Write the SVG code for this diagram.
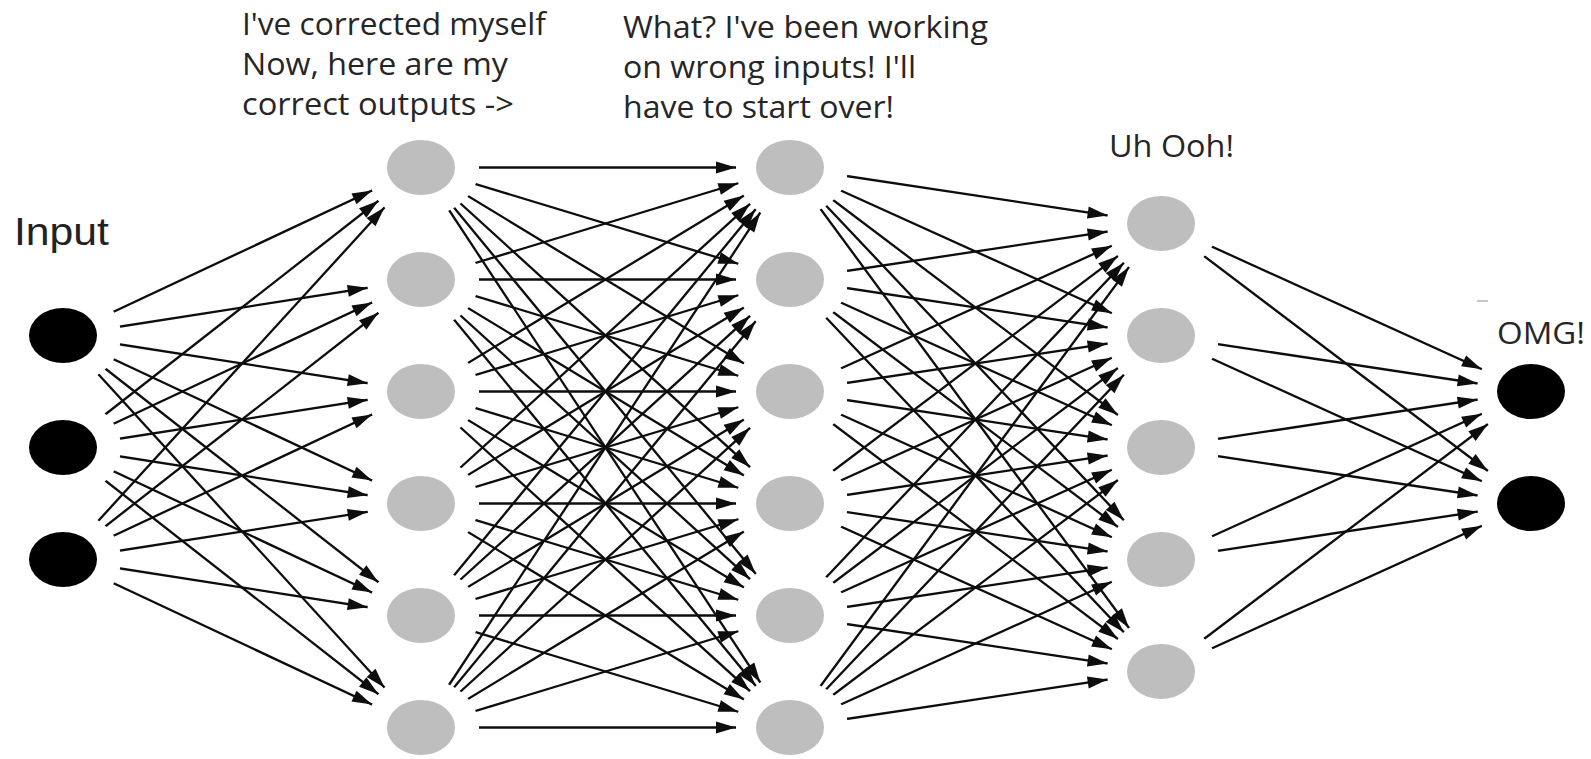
<svg xmlns="http://www.w3.org/2000/svg" xmlns:xlink="http://www.w3.org/1999/xlink" width="1591" height="759" viewBox="0 0 1591 759">
<style>
.conn line{stroke:#0d0d0d;stroke-width:2.3;fill:none;marker-end:url(#ah)}
.hid{fill:#bebebe}
.io{fill:#000}
.note{font-family:"Open Sans","Noto Sans",sans-serif;font-size:31px;fill:#262626}
.lbl{font-family:"Liberation Sans",Arial,sans-serif;font-size:39px;fill:#222}
</style>
<defs>
<marker id="ah" markerUnits="userSpaceOnUse" orient="auto" overflow="visible" markerWidth="1" markerHeight="1" refX="0" refY="0">
<path d="M-54,0 L-74,-6 L-74,6 Z" fill="#0d0d0d"/>
</marker>
<path id="hole" d="M0,-54 A54,54 0 0 0 0,54 L0,49 A58,49 0 0 0 0,-49 Z" fill="#000"/>
<mask id="trim" maskUnits="userSpaceOnUse" x="0" y="0" width="1591" height="759">
<rect width="1591" height="759" fill="#fff"/>
<use xlink:href="#hole" x="63" y="335.5"/><use xlink:href="#hole" x="63" y="447.5"/><use xlink:href="#hole" x="63" y="559.5"/>
<use xlink:href="#hole" x="421" y="167.5"/><use xlink:href="#hole" x="421" y="279.5"/><use xlink:href="#hole" x="421" y="391.5"/><use xlink:href="#hole" x="421" y="503.5"/><use xlink:href="#hole" x="421" y="615.5"/><use xlink:href="#hole" x="421" y="727.5"/>
<use xlink:href="#hole" x="790" y="167.5"/><use xlink:href="#hole" x="790" y="279.5"/><use xlink:href="#hole" x="790" y="391.5"/><use xlink:href="#hole" x="790" y="503.5"/><use xlink:href="#hole" x="790" y="615.5"/><use xlink:href="#hole" x="790" y="727.5"/>
<use xlink:href="#hole" x="1161" y="223.5"/><use xlink:href="#hole" x="1161" y="335.5"/><use xlink:href="#hole" x="1161" y="447.5"/><use xlink:href="#hole" x="1161" y="559.5"/><use xlink:href="#hole" x="1161" y="671.5"/>
<use xlink:href="#hole" x="1531" y="391.5"/><use xlink:href="#hole" x="1531" y="503.5"/>
</mask>
</defs>
<rect width="1591" height="759" fill="#fff"/>

<g id="connectors" class="conn" mask="url(#trim)">
<line x1="63" y1="335.5" x2="421" y2="167.5"/><line x1="63" y1="335.5" x2="421" y2="279.5"/><line x1="63" y1="335.5" x2="421" y2="391.5"/><line x1="63" y1="335.5" x2="421" y2="503.5"/><line x1="63" y1="335.5" x2="421" y2="615.5"/><line x1="63" y1="335.5" x2="421" y2="727.5"/>
<line x1="63" y1="447.5" x2="421" y2="167.5"/><line x1="63" y1="447.5" x2="421" y2="279.5"/><line x1="63" y1="447.5" x2="421" y2="391.5"/><line x1="63" y1="447.5" x2="421" y2="503.5"/><line x1="63" y1="447.5" x2="421" y2="615.5"/><line x1="63" y1="447.5" x2="421" y2="727.5"/>
<line x1="63" y1="559.5" x2="421" y2="167.5"/><line x1="63" y1="559.5" x2="421" y2="279.5"/><line x1="63" y1="559.5" x2="421" y2="391.5"/><line x1="63" y1="559.5" x2="421" y2="503.5"/><line x1="63" y1="559.5" x2="421" y2="615.5"/><line x1="63" y1="559.5" x2="421" y2="727.5"/>

<line x1="421" y1="167.5" x2="790" y2="167.5"/><line x1="421" y1="167.5" x2="790" y2="279.5"/><line x1="421" y1="167.5" x2="790" y2="391.5"/><line x1="421" y1="167.5" x2="790" y2="503.5"/><line x1="421" y1="167.5" x2="790" y2="615.5"/><line x1="421" y1="167.5" x2="790" y2="727.5"/>
<line x1="421" y1="279.5" x2="790" y2="167.5"/><line x1="421" y1="279.5" x2="790" y2="279.5"/><line x1="421" y1="279.5" x2="790" y2="391.5"/><line x1="421" y1="279.5" x2="790" y2="503.5"/><line x1="421" y1="279.5" x2="790" y2="615.5"/><line x1="421" y1="279.5" x2="790" y2="727.5"/>
<line x1="421" y1="391.5" x2="790" y2="167.5"/><line x1="421" y1="391.5" x2="790" y2="279.5"/><line x1="421" y1="391.5" x2="790" y2="391.5"/><line x1="421" y1="391.5" x2="790" y2="503.5"/><line x1="421" y1="391.5" x2="790" y2="615.5"/><line x1="421" y1="391.5" x2="790" y2="727.5"/>
<line x1="421" y1="503.5" x2="790" y2="167.5"/><line x1="421" y1="503.5" x2="790" y2="279.5"/><line x1="421" y1="503.5" x2="790" y2="391.5"/><line x1="421" y1="503.5" x2="790" y2="503.5"/><line x1="421" y1="503.5" x2="790" y2="615.5"/><line x1="421" y1="503.5" x2="790" y2="727.5"/>
<line x1="421" y1="615.5" x2="790" y2="167.5"/><line x1="421" y1="615.5" x2="790" y2="279.5"/><line x1="421" y1="615.5" x2="790" y2="391.5"/><line x1="421" y1="615.5" x2="790" y2="503.5"/><line x1="421" y1="615.5" x2="790" y2="615.5"/><line x1="421" y1="615.5" x2="790" y2="727.5"/>
<line x1="421" y1="727.5" x2="790" y2="167.5"/><line x1="421" y1="727.5" x2="790" y2="279.5"/><line x1="421" y1="727.5" x2="790" y2="391.5"/><line x1="421" y1="727.5" x2="790" y2="503.5"/><line x1="421" y1="727.5" x2="790" y2="615.5"/><line x1="421" y1="727.5" x2="790" y2="727.5"/>

<line x1="790" y1="167.5" x2="1161" y2="223.5"/><line x1="790" y1="167.5" x2="1161" y2="335.5"/><line x1="790" y1="167.5" x2="1161" y2="447.5"/><line x1="790" y1="167.5" x2="1161" y2="559.5"/><line x1="790" y1="167.5" x2="1161" y2="671.5"/>
<line x1="790" y1="279.5" x2="1161" y2="223.5"/><line x1="790" y1="279.5" x2="1161" y2="335.5"/><line x1="790" y1="279.5" x2="1161" y2="447.5"/><line x1="790" y1="279.5" x2="1161" y2="559.5"/><line x1="790" y1="279.5" x2="1161" y2="671.5"/>
<line x1="790" y1="391.5" x2="1161" y2="223.5"/><line x1="790" y1="391.5" x2="1161" y2="335.5"/><line x1="790" y1="391.5" x2="1161" y2="447.5"/><line x1="790" y1="391.5" x2="1161" y2="559.5"/><line x1="790" y1="391.5" x2="1161" y2="671.5"/>
<line x1="790" y1="503.5" x2="1161" y2="223.5"/><line x1="790" y1="503.5" x2="1161" y2="335.5"/><line x1="790" y1="503.5" x2="1161" y2="447.5"/><line x1="790" y1="503.5" x2="1161" y2="559.5"/><line x1="790" y1="503.5" x2="1161" y2="671.5"/>
<line x1="790" y1="615.5" x2="1161" y2="223.5"/><line x1="790" y1="615.5" x2="1161" y2="335.5"/><line x1="790" y1="615.5" x2="1161" y2="447.5"/><line x1="790" y1="615.5" x2="1161" y2="559.5"/><line x1="790" y1="615.5" x2="1161" y2="671.5"/>
<line x1="790" y1="727.5" x2="1161" y2="223.5"/><line x1="790" y1="727.5" x2="1161" y2="335.5"/><line x1="790" y1="727.5" x2="1161" y2="447.5"/><line x1="790" y1="727.5" x2="1161" y2="559.5"/><line x1="790" y1="727.5" x2="1161" y2="671.5"/>

<line x1="1161" y1="223.5" x2="1531" y2="391.5"/><line x1="1161" y1="223.5" x2="1531" y2="503.5"/>
<line x1="1161" y1="335.5" x2="1531" y2="391.5"/><line x1="1161" y1="335.5" x2="1531" y2="503.5"/>
<line x1="1161" y1="447.5" x2="1531" y2="391.5"/><line x1="1161" y1="447.5" x2="1531" y2="503.5"/>
<line x1="1161" y1="559.5" x2="1531" y2="391.5"/><line x1="1161" y1="559.5" x2="1531" y2="503.5"/>
<line x1="1161" y1="671.5" x2="1531" y2="391.5"/><line x1="1161" y1="671.5" x2="1531" y2="503.5"/>
</g>

<g id="in1"><ellipse class="io" cx="63" cy="335.5" rx="34" ry="27.5"/></g>
<g id="in2"><ellipse class="io" cx="63" cy="447.5" rx="34" ry="27.5"/></g>
<g id="in3"><ellipse class="io" cx="63" cy="559.5" rx="34" ry="27.5"/></g>

<g id="h1n1"><ellipse class="hid" cx="421" cy="167.5" rx="34" ry="27.5"/></g>
<g id="h1n2"><ellipse class="hid" cx="421" cy="279.5" rx="34" ry="27.5"/></g>
<g id="h1n3"><ellipse class="hid" cx="421" cy="391.5" rx="34" ry="27.5"/></g>
<g id="h1n4"><ellipse class="hid" cx="421" cy="503.5" rx="34" ry="27.5"/></g>
<g id="h1n5"><ellipse class="hid" cx="421" cy="615.5" rx="34" ry="27.5"/></g>
<g id="h1n6"><ellipse class="hid" cx="421" cy="727.5" rx="34" ry="27.5"/></g>

<g id="h2n1"><ellipse class="hid" cx="790" cy="167.5" rx="34" ry="27.5"/></g>
<g id="h2n2"><ellipse class="hid" cx="790" cy="279.5" rx="34" ry="27.5"/></g>
<g id="h2n3"><ellipse class="hid" cx="790" cy="391.5" rx="34" ry="27.5"/></g>
<g id="h2n4"><ellipse class="hid" cx="790" cy="503.5" rx="34" ry="27.5"/></g>
<g id="h2n5"><ellipse class="hid" cx="790" cy="615.5" rx="34" ry="27.5"/></g>
<g id="h2n6"><ellipse class="hid" cx="790" cy="727.5" rx="34" ry="27.5"/></g>

<g id="h3n1"><ellipse class="hid" cx="1161" cy="223.5" rx="34" ry="27.5"/></g>
<g id="h3n2"><ellipse class="hid" cx="1161" cy="335.5" rx="34" ry="27.5"/></g>
<g id="h3n3"><ellipse class="hid" cx="1161" cy="447.5" rx="34" ry="27.5"/></g>
<g id="h3n4"><ellipse class="hid" cx="1161" cy="559.5" rx="34" ry="27.5"/></g>
<g id="h3n5"><ellipse class="hid" cx="1161" cy="671.5" rx="34" ry="27.5"/></g>

<g id="out1"><ellipse class="io" cx="1531" cy="391.5" rx="34" ry="27.5"/></g>
<g id="out2"><ellipse class="io" cx="1531" cy="503.5" rx="34" ry="27.5"/></g>

<g id="labels">
<text class="lbl" x="14" y="245" textLength="95" lengthAdjust="spacingAndGlyphs">Input</text>
<text class="note" x="242" y="35" textLength="304" lengthAdjust="spacingAndGlyphs">I've corrected myself</text>
<text class="note" x="242" y="75" textLength="266" lengthAdjust="spacingAndGlyphs">Now, here are my</text>
<text class="note" x="242" y="115" textLength="272" lengthAdjust="spacingAndGlyphs">correct outputs -&gt;</text>
<text class="note" x="623" y="38" textLength="365" lengthAdjust="spacingAndGlyphs">What? I've been working</text>
<text class="note" x="623" y="78" textLength="293" lengthAdjust="spacingAndGlyphs">on wrong inputs! I'll</text>
<text class="note" x="623" y="118" textLength="271" lengthAdjust="spacingAndGlyphs">have to start over!</text>
<text class="note" x="1109" y="157" textLength="125" lengthAdjust="spacingAndGlyphs">Uh Ooh!</text>
<text class="note" x="1497" y="344" textLength="88" lengthAdjust="spacingAndGlyphs">OMG!</text>
</g>
<line x1="1477" y1="301" x2="1488" y2="301" stroke="#c8c8c8" stroke-width="2"/>
</svg>
